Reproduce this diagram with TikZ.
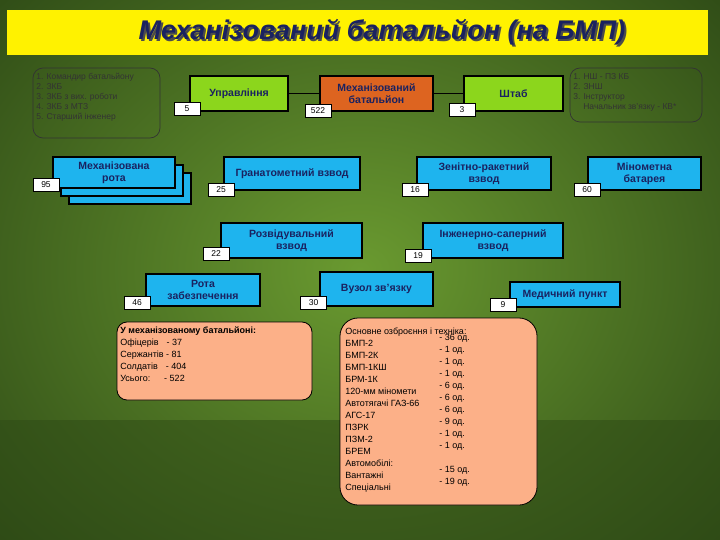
\documentclass[tikz,border=0pt]{standalone}
\usepackage{fontspec}
\setmainfont{Liberation Sans}
\usetikzlibrary{shadings}
\definecolor{bgin}{HTML}{6A9A30}
\definecolor{bgout}{HTML}{2E4A16}
\definecolor{lg}{HTML}{8CD61C}
\definecolor{og}{HTML}{DD6420}
\definecolor{cy}{HTML}{1EB4EE}
\definecolor{pe}{HTML}{FCB088}
\definecolor{nv}{HTML}{1A2260}
\tikzset{
 unit/.style={draw=black,line width=1.4pt,text=nv,font=\bfseries\fontsize{10.5}{12}\selectfont,align=center,inner sep=1pt},
 badge/.style={draw=black,fill=white,line width=0.8pt,font=\fontsize{8.5}{9}\selectfont,inner sep=0pt,minimum width=26pt,minimum height=13pt},
 note/.style={draw=black!80,rounded corners=10pt,line width=0.7pt,font=\fontsize{8.5}{10}\selectfont,align=left,inner sep=3pt,anchor=north west},
}
\begin{document}
\begin{tikzpicture}[x=1pt,y=-1pt]
\useasboundingbox (0,0) rectangle (720,540);
\shade[inner color=bgin,outer color=bgout] (-150,-150) rectangle (870,690);
\fill[bgout,opacity=0.5] (0,420) rectangle (720,540);
\node[fill=yellow,minimum width=701pt,minimum height=45pt,anchor=north west,inner sep=0] (tb) at (7,10) {};
\node[font=\bfseries\itshape\fontsize{27}{29}\selectfont,text=black!70] at (384,34) {Механізований батальйон (на БМП)};
\node[font=\bfseries\itshape\fontsize{27}{29}\selectfont,text=nv] (title) at (382,32) {Механізований батальйон (на БМП)};
% notes
\draw[note] (33,68) rectangle (160,138);
\node[note,draw=none,text=black!80] (n1) at (33,70) {1. Командир батальйону\\2. ЗКБ\\3. ЗКБ з вих. роботи\\4. ЗКБ з МТЗ\\5. Старший інженер};
\draw[note] (570,68) rectangle (702,122);
\node[note,draw=none,text=black!80] (n2) at (570,70) {1. НШ - ПЗ КБ\\2. ЗНШ\\3. Інструктор\\\hspace*{10pt}Начальник зв'язку - КВ*};
% top row
\node[unit,fill=lg,minimum width=98pt,minimum height=35pt] (upr) at (239,93.5) {Управління};
\node[unit,fill=og,minimum width=113pt,minimum height=35pt] (bat) at (376.5,93.5) {Механізований\\батальйон};
\node[unit,fill=lg,minimum width=99pt,minimum height=35pt] (sht) at (513.5,93.5) {Штаб};
\draw[line width=1.4pt] (upr) -- (bat);
\draw[line width=1.4pt] (bat) -- (sht);
\node[badge] (b5) at (187,109) {5};
\node[badge] (b522) at (318,110.5) {522};
\node[badge] (b3) at (462,110) {3};
% row 2
\node[unit,fill=cy,minimum width=122pt,minimum height=31pt] (r3) at (130,188.5) {};
\node[unit,fill=cy,minimum width=122pt,minimum height=31pt] (r2) at (122,180.5) {};
\node[unit,fill=cy,minimum width=122pt,minimum height=31pt] (mr) at (114,172.5) {Механізована\\рота};
\node[badge] (b95) at (46,184.5) {95};
\node[unit,fill=cy,minimum width=136pt,minimum height=33pt] (gr) at (292,173.5) {Гранатометний взвод};
\node[badge] (b25) at (221,189.5) {25};
\node[unit,fill=cy,minimum width=134pt,minimum height=33pt] (zr) at (484,173.5) {Зенітно-ракетний\\взвод};
\node[badge] (b16) at (415,189.5) {16};
\node[unit,fill=cy,minimum width=113pt,minimum height=33pt] (mb) at (644.5,173.5) {Мінометна\\батарея};
\node[badge] (b60) at (587,189.5) {60};
% row 3
\node[unit,fill=cy,minimum width=141pt,minimum height=35pt] (rv) at (291.5,240.5) {Розвідувальний\\взвод};
\node[badge] (b22) at (216,254) {22};
\node[unit,fill=cy,minimum width=140pt,minimum height=35pt] (is) at (493,240.5) {Інженерно-саперний\\взвод};
\node[badge] (b19) at (418,256) {19};
% row 4
\node[unit,fill=cy,minimum width=114pt,minimum height=32pt] (rz) at (203,290) {Рота\\забезпечення};
\node[badge] (b46) at (137,302.5) {46};
\node[unit,fill=cy,minimum width=113pt,minimum height=34pt] (vz) at (376.5,289) {Вузол зв'язку};
\node[badge] (b30) at (313.5,302.5) {30};
\node[unit,fill=cy,minimum width=110pt,minimum height=25pt] (mp) at (565,294.5) {Медичний пункт};
\node[badge] (b9) at (503,305) {9};
% summaries
\draw[fill=pe,draw=black,line width=0.8pt,rounded corners=10pt] (117,322) rectangle (312,400);
\node[note,draw=none,text=black,font=\fontsize{9}{12}\selectfont] (s1) at (117,323) {\textbf{У механізованому батальйоні:}\\Офіцерів\hspace{8pt}- 37\\Сержантів - 81\\Солдатів\hspace{8pt}- 404\\Усього:\hspace{14pt}- 522};
\draw[fill=pe,draw=black,line width=0.8pt,rounded corners=18pt] (340,318) rectangle (537,505);
\node[note,draw=none,text=black,font=\fontsize{9}{12}\selectfont] (s2) at (342,325) {Основне озброєння і техніка:\\
БМП-2\\БМП-2К\\БМП-1КШ\\БРМ-1К\\120-мм міномети\\Автотягачі ГАЗ-66\\АГС-17\\ПЗРК\\ПЗМ-2\\БРЕМ\\Автомобілі:\\Вантажні\\Спеціальні};
\node[note,draw=none,text=black,font=\fontsize{9}{12}\selectfont] (s3) at (436,325) {\\- 36 од.\\- 1 од.\\- 1 од.\\- 1 од.\\- 6 од.\\- 6 од.\\- 6 од.\\- 9 од.\\- 1 од.\\- 1 од.\\ \\- 15 од.\\- 19 од.};
\end{tikzpicture}
\end{document}
